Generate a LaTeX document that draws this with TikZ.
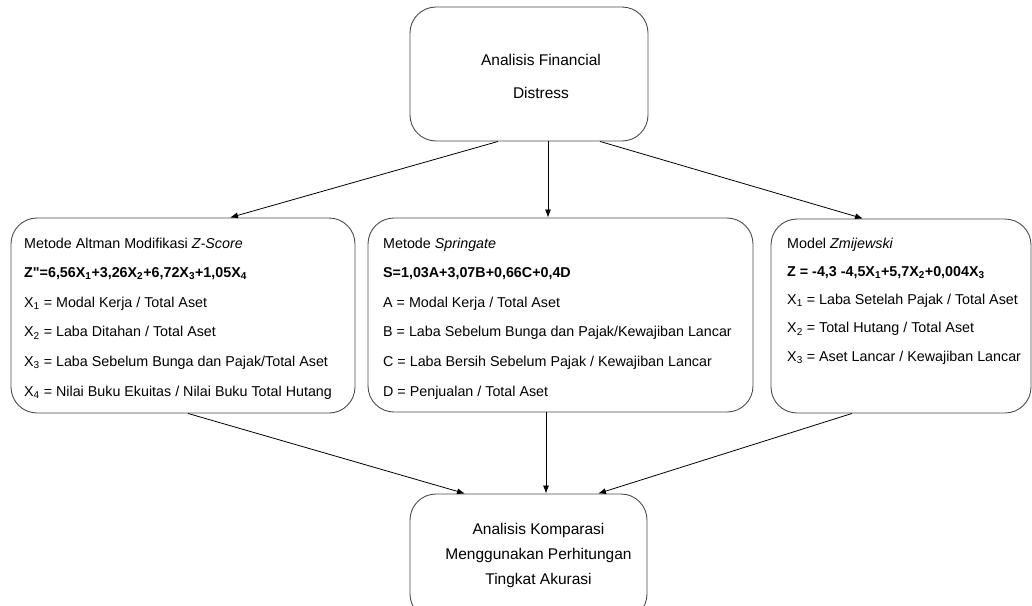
\documentclass[tikz,border=0pt]{standalone}
\usepackage{fontspec}
\setmainfont{Liberation Sans}
\usetikzlibrary{arrows.meta,positioning}

\begin{document}
\begin{tikzpicture}[x=1pt,y=-1pt,
  box/.style={draw=black!70,line width=0.9pt,rounded corners=26pt,inner sep=0pt},
  txt/.style={align=left,inner sep=0pt,anchor=north west},
  judul/.style={align=center,inner sep=0pt,font=\fontsize{15.5}{#1}\selectfont},
  arr/.style={-{Latex[length=8pt,width=6pt]},line width=0.8pt}]
\useasboundingbox (0,0) rectangle (1032,605);
% kotak atas dan bawah
\node[box,minimum width=238pt,minimum height=134pt] (analisis) at (529,74) {};
\node[judul=33] (analisistxt) at ([xshift=12pt,yshift=-2pt]analisis.center) {Analisis Financial\\Distress};
\node[box,minimum width=237pt,minimum height=126pt] (komparasi) at (528.5,557) {};
\node[judul=25] (komparasitxt) at ([xshift=10pt,yshift=2pt]komparasi.center)
  {Analisis Komparasi\\Menggunakan Perhitungan\\Tingkat Akurasi};
% tiga metode
\node[box,minimum width=344pt,minimum height=195pt] (altman) at (183,315.5) {};
\node[box,minimum width=385pt,minimum height=194pt] (springate) at (560.5,315) {};
\node[box,minimum width=260pt,minimum height=194pt] (zmijewski) at (901,316) {};
\node[txt,font=\fontsize{14.3}{29.6}\selectfont] (altmantxt) at (24,237.5)
  {Metode Altman Modifikasi \textit{Z-Score}\\
   \textbf{Z\textquotedbl=6,56X\textsubscript{1}+3,26X\textsubscript{2}+6,72X\textsubscript{3}+1,05X\textsubscript{4}}\\
   X\textsubscript{1} = Modal Kerja / Total Aset\\
   X\textsubscript{2} = Laba Ditahan / Total Aset\\
   X\textsubscript{3} = Laba Sebelum Bunga dan Pajak/Total Aset\\
   X\textsubscript{4} = Nilai Buku Ekuitas / Nilai Buku Total Hutang};
\node[txt,font=\fontsize{14.3}{29.6}\selectfont] (springatetxt) at (383,237.5)
  {Metode \textit{Springate}\\
   \textbf{S=1,03A+3,07B+0,66C+0,4D}\\
   A = Modal Kerja / Total Aset\\
   B = Laba Sebelum Bunga dan Pajak/Kewajiban Lancar\\
   C = Laba Bersih Sebelum Pajak / Kewajiban Lancar\\
   D = Penjualan / Total Aset};
\node[txt,font=\fontsize{14.3}{28.3}\selectfont] (zmijewskitxt) at (787,237.5)
  {Model \textit{Zmijewski}\\
   \textbf{Z = -4,3 -4,5X\textsubscript{1}+5,7X\textsubscript{2}+0,004X\textsubscript{3}}\\
   X\textsubscript{1} = Laba Setelah Pajak / Total Aset\\
   X\textsubscript{2} = Total Hutang / Total Aset\\
   X\textsubscript{3} = Aset Lancar / Kewajiban Lancar};
% panah
\draw[arr] ([xshift=-31pt]analisis.south) -- ([xshift=47pt]altman.north);
\draw[arr] ([xshift=19pt]analisis.south) -- ([xshift=-12.5pt]springate.north);
\draw[arr] ([xshift=71pt]analisis.south) -- ([xshift=-38pt]zmijewski.north);
\draw[arr] ([xshift=5pt]altman.south) -- ([xshift=-63.5pt]komparasi.north);
\draw[arr] ([xshift=-14.5pt]springate.south) -- ([xshift=17.5pt]komparasi.north);
\draw[arr] ([xshift=-49pt]zmijewski.south) -- ([xshift=69.5pt]komparasi.north);
\end{tikzpicture}
\end{document}
